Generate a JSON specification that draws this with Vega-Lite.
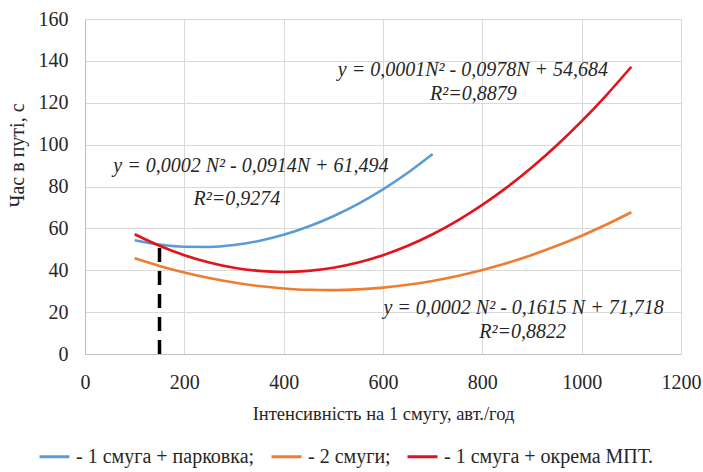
{
  "$schema": "https://vega.github.io/schema/vega-lite/v6.json",
  "autosize": "none",
  "width": 596,
  "height": 335,
  "padding": {"left": 85, "top": 19, "right": 22, "bottom": 118},
  "config": {
    "view": {"stroke": null},
    "axis": {
      "labelColor": "#262626",
      "titleColor": "#262626",
      "titleFontWeight": "normal",
      "gridColor": "#d9d9d9",
      "domainColor": "#bfbfbf",
      "ticks": false,
      "labelFontSize": 20
    }
  },
  "datasets": {
    "curves": [
      {"n": 100, "t": 54.35, "s": "- 1 смуга + парковка;"},
      {"n": 150, "t": 52.28, "s": "- 1 смуга + парковка;"},
      {"n": 200, "t": 51.21, "s": "- 1 смуга + парковка;"},
      {"n": 250, "t": 51.14, "s": "- 1 смуга + парковка;"},
      {"n": 300, "t": 52.07, "s": "- 1 смуга + парковка;"},
      {"n": 350, "t": 54.0, "s": "- 1 смуга + парковка;"},
      {"n": 400, "t": 56.93, "s": "- 1 смуга + парковка;"},
      {"n": 450, "t": 60.86, "s": "- 1 смуга + парковка;"},
      {"n": 500, "t": 65.79, "s": "- 1 смуга + парковка;"},
      {"n": 550, "t": 71.72, "s": "- 1 смуга + парковка;"},
      {"n": 600, "t": 78.65, "s": "- 1 смуга + парковка;"},
      {"n": 650, "t": 86.58, "s": "- 1 смуга + парковка;"},
      {"n": 700, "t": 95.51, "s": "- 1 смуга + парковка;"},
      {"n": 100, "t": 45.71, "s": "- 2 смуги;"},
      {"n": 150, "t": 42.06, "s": "- 2 смуги;"},
      {"n": 200, "t": 38.91, "s": "- 2 смуги;"},
      {"n": 250, "t": 36.26, "s": "- 2 смуги;"},
      {"n": 300, "t": 34.11, "s": "- 2 смуги;"},
      {"n": 350, "t": 32.46, "s": "- 2 смуги;"},
      {"n": 400, "t": 31.31, "s": "- 2 смуги;"},
      {"n": 450, "t": 30.66, "s": "- 2 смуги;"},
      {"n": 500, "t": 30.51, "s": "- 2 смуги;"},
      {"n": 550, "t": 30.86, "s": "- 2 смуги;"},
      {"n": 600, "t": 31.71, "s": "- 2 смуги;"},
      {"n": 650, "t": 33.06, "s": "- 2 смуги;"},
      {"n": 700, "t": 34.91, "s": "- 2 смуги;"},
      {"n": 750, "t": 37.26, "s": "- 2 смуги;"},
      {"n": 800, "t": 40.11, "s": "- 2 смуги;"},
      {"n": 850, "t": 43.46, "s": "- 2 смуги;"},
      {"n": 900, "t": 47.31, "s": "- 2 смуги;"},
      {"n": 950, "t": 51.66, "s": "- 2 смуги;"},
      {"n": 1000, "t": 56.51, "s": "- 2 смуги;"},
      {"n": 1050, "t": 61.86, "s": "- 2 смуги;"},
      {"n": 1100, "t": 67.71, "s": "- 2 смуги;"},
      {"n": 100, "t": 57.2, "s": "- 1 смуга + окрема МПТ."},
      {"n": 150, "t": 51.7, "s": "- 1 смуга + окрема МПТ."},
      {"n": 200, "t": 47.2, "s": "- 1 смуга + окрема МПТ."},
      {"n": 250, "t": 43.7, "s": "- 1 смуга + окрема МПТ."},
      {"n": 300, "t": 41.2, "s": "- 1 смуга + окрема МПТ."},
      {"n": 350, "t": 39.7, "s": "- 1 смуга + окрема МПТ."},
      {"n": 400, "t": 39.2, "s": "- 1 смуга + окрема МПТ."},
      {"n": 450, "t": 39.7, "s": "- 1 смуга + окрема МПТ."},
      {"n": 500, "t": 41.2, "s": "- 1 смуга + окрема МПТ."},
      {"n": 550, "t": 43.7, "s": "- 1 смуга + окрема МПТ."},
      {"n": 600, "t": 47.2, "s": "- 1 смуга + окрема МПТ."},
      {"n": 650, "t": 51.7, "s": "- 1 смуга + окрема МПТ."},
      {"n": 700, "t": 57.2, "s": "- 1 смуга + окрема МПТ."},
      {"n": 750, "t": 63.7, "s": "- 1 смуга + окрема МПТ."},
      {"n": 800, "t": 71.2, "s": "- 1 смуга + окрема МПТ."},
      {"n": 850, "t": 79.7, "s": "- 1 смуга + окрема МПТ."},
      {"n": 900, "t": 89.2, "s": "- 1 смуга + окрема МПТ."},
      {"n": 950, "t": 99.7, "s": "- 1 смуга + окрема МПТ."},
      {"n": 1000, "t": 111.2, "s": "- 1 смуга + окрема МПТ."},
      {"n": 1050, "t": 123.7, "s": "- 1 смуга + окрема МПТ."},
      {"n": 1100, "t": 137.2, "s": "- 1 смуга + окрема МПТ."}
    ],
    "marker": [{"n": 150, "t0": 0, "t1": 53.5}],
    "notes": [
      {"n": 334, "t": 87, "label": "y = 0,0002 N² - 0,0914N + 61,494"},
      {"n": 306, "t": 71.2, "label": "R²=0,9274"},
      {"n": 781, "t": 132.7, "label": "y = 0,0001N² - 0,0978N  + 54,684"},
      {"n": 782, "t": 121.2, "label": "R²=0,8879"},
      {"n": 883, "t": 19.2, "label": "y = 0,0002 N² - 0,1615 N + 71,718"},
      {"n": 881, "t": 7.7, "label": "R²=0,8822"}
    ]
  },
  "layer": [
    {
      "data": {"name": "notes"},
      "mark": {"type": "text", "font": "Liberation Serif", "fontStyle": "italic", "fontSize": 20, "color": "#262626", "align": "center", "baseline": "alphabetic"},
      "encoding": {
        "x": {
          "field": "n", "type": "quantitative",
          "scale": {"domain": [0, 1200], "nice": false},
          "axis": {
            "values": [0, 200, 400, 600, 800, 1000, 1200],
            "format": "d",
            "labelFont": "Liberation Serif",
            "titleFont": "Liberation Serif",
            "title": "Інтенсивність на 1 смугу,  авт./год",
            "titleFontSize": 18.5,
            "labelPadding": 18,
            "titlePadding": 12,
            "labelFlush": false
          }
        },
        "y": {
          "field": "t", "type": "quantitative",
          "scale": {"domain": [0, 160], "nice": false},
          "axis": {
            "values": [0, 20, 40, 60, 80, 100, 120, 140, 160],
            "format": "d",
            "labelFont": "Liberation Serif",
            "titleFont": "Liberation Serif",
            "title": "Час в путі, с",
            "titleFontSize": 20,
            "labelPadding": 17,
            "titleX": -68,
            "titleY": 136,
            "titleAlign": "center",
            "titleBaseline": "middle",
            "titleAngle": -90
          }
        },
        "text": {"field": "label"}
      }
    },
    {
      "data": {"name": "curves"},
      "mark": {"type": "line", "interpolate": "monotone", "strokeWidth": 2.6},
      "encoding": {
        "x": {"field": "n", "type": "quantitative"},
        "y": {"field": "t", "type": "quantitative"},
        "color": {
          "field": "s", "type": "nominal",
          "scale": {
            "domain": ["- 1 смуга + парковка;", "- 2 смуги;", "- 1 смуга + окрема МПТ."],
            "range": ["#5B9BD5", "#ED7D31", "#E3131B"]
          },
          "legend": {
            "title": null,
            "orient": "none",
            "direction": "horizontal",
            "legendX": -47,
            "legendY": 421,
            "symbolType": "stroke",
            "symbolSize": 900,
            "symbolStrokeWidth": 3,
            "labelFont": "Liberation Serif",
            "labelFontSize": 20,
            "labelColor": "#262626",
            "labelOffset": 5,
            "columnSpacing": 7,
            "labelLimit": 400
          }
        }
      }
    },
    {
      "data": {"name": "marker"},
      "mark": {"type": "rule", "color": "black", "strokeWidth": 3.5, "strokeDash": [14, 9]},
      "encoding": {
        "x": {"field": "n", "type": "quantitative"},
        "y": {"field": "t0", "type": "quantitative"},
        "y2": {"field": "t1"}
      }
    }
  ]
}
